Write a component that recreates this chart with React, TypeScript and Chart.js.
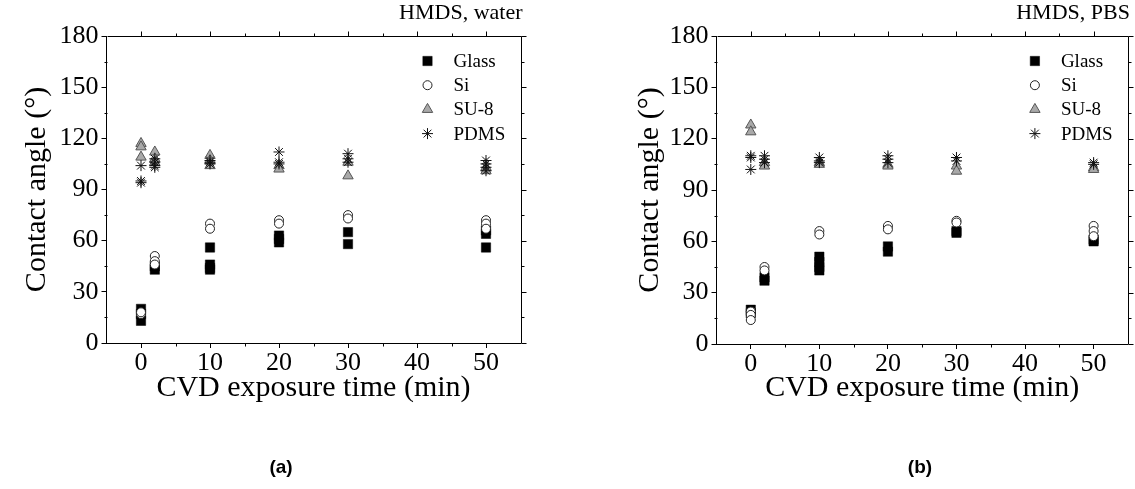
import React, { useEffect, useRef } from 'react';
import { Chart, registerables } from 'chart.js';
import { drawPoint } from 'chart.js/helpers';

Chart.register(...registerables);

// ---------- data ----------
const seriesNames = ['Glass', 'Si', 'SU-8', 'PDMS'];
const xTickValues = [0, 10, 20, 30, 40, 50];
const yTickValues = [0, 30, 60, 90, 120, 150, 180];
const xMinorValues = [5, 15, 25, 35, 45];
const yMinorValues = [15, 45, 75, 105, 135, 165];

// (a) HMDS, water
const waterGlass: [number, number][] = [
  [0, 13], [0, 17], [0, 20], [2, 43], [2, 45], [10, 56], [10, 46], [10, 44], [10, 43],
  [20, 63], [20, 61], [20, 59], [30, 65], [30, 58], [50, 66], [50, 64], [50, 56],
];
const waterSi: [number, number][] = [
  [0, 17], [0, 18], [2, 51], [2, 48], [2, 46], [10, 70], [10, 67], [20, 72], [20, 70],
  [30, 75], [30, 73], [50, 72], [50, 70], [50, 67],
];
const waterSU8: [number, number][] = [
  [0, 117], [0, 115], [0, 109], [2, 112], [2, 108], [2, 106], [10, 110], [10, 107], [10, 104],
  [20, 104], [20, 102], [30, 106], [30, 98], [50, 103], [50, 101],
];
const waterPDMS: [number, number][] = [
  [0, 104], [0, 95], [0, 94], [2, 108], [2, 106], [2, 104], [2, 103], [10, 107], [10, 106], [10, 105],
  [20, 112], [20, 106], [20, 105], [30, 111], [30, 108], [30, 106], [50, 107], [50, 105], [50, 103], [50, 101],
];

// (b) HMDS, PBS
const pbsGlass: [number, number][] = [
  [0, 20], [0, 18], [2, 39], [2, 37], [10, 51], [10, 48], [10, 45], [10, 43],
  [20, 57], [20, 54], [30, 66], [30, 65], [50, 61], [50, 60],
];
const pbsSi: [number, number][] = [
  [0, 19], [0, 17], [0, 14], [2, 45], [2, 43], [10, 66], [10, 64], [20, 69], [20, 67],
  [30, 72], [30, 71], [50, 69], [50, 66], [50, 63],
];
const pbsSU8: [number, number][] = [
  [0, 128], [0, 124], [2, 106], [2, 104], [10, 106], [10, 105], [20, 105], [20, 104],
  [30, 104], [30, 101], [50, 103], [50, 102],
];
const pbsPDMS: [number, number][] = [
  [0, 110], [0, 109], [0, 102], [2, 110], [2, 108], [2, 106], [10, 109], [10, 107], [10, 106],
  [20, 110], [20, 108], [20, 106], [30, 109], [30, 107], [50, 106], [50, 105],
];

// ---------- styles ----------
const markerStyles = [
  { pointStyle: 'rect', radius: 6.6, bg: '#000000', border: '#000000', bw: 0.5 },
  { pointStyle: 'circle', radius: 4.5, bg: '#ffffff', border: '#222222', bw: 1 },
  { pointStyle: 'triangle', radius: 6, bg: '#a9a9a9', border: '#555555', bw: 1 },
  { pointStyle: 'star', radius: 5.5, bg: '#000000', border: '#111111', bw: 1 },
];

const SERIF = '"Liberation Serif", "Times New Roman", serif';
const SANS = '"Liberation Sans", Arial, sans-serif';
const H = 489;

type Panel = {
  series: [number, number][][];
  note: string;
  label: string;
  labelX: number;
  canvasLeft: number;
  canvasWidth: number;
  yWidth: number;
  padRight: number;
  xHeight: number;
  yTitlePad: number;
};

const decorPlugin = {
  id: 'decor',
  afterDraw(chart: any) {
    const p: Panel = chart.options.plugins.decor.panel;
    const { ctx, chartArea } = chart;
    const { left, right, top, bottom } = chartArea;
    const xs = chart.scales.x;
    const ys = chart.scales.y;
    ctx.save();
    ctx.strokeStyle = '#000';
    ctx.lineWidth = 1;
    const L = Math.round(left) + 0.5;
    const R = Math.round(right) + 0.5;
    const T = Math.round(top) + 0.5;
    const B = Math.round(bottom) + 0.5;
    ctx.beginPath();
    ctx.moveTo(L, T);
    ctx.lineTo(R, T);
    ctx.lineTo(R, B);
    ctx.stroke();
    // ticks
    ctx.beginPath();
    xTickValues.forEach((v) => {
      const px = Math.round(xs.getPixelForValue(v)) + 0.5;
      ctx.moveTo(px, T);
      ctx.lineTo(px, T - 5);
    });
    xMinorValues.forEach((v) => {
      const px = Math.round(xs.getPixelForValue(v)) + 0.5;
      ctx.moveTo(px, T);
      ctx.lineTo(px, T - 3);
      ctx.moveTo(px, B);
      ctx.lineTo(px, B + 3);
    });
    yTickValues.forEach((v) => {
      const py = Math.round(ys.getPixelForValue(v)) + 0.5;
      ctx.moveTo(R, py);
      ctx.lineTo(R + 5, py);
    });
    yMinorValues.forEach((v) => {
      const py = Math.round(ys.getPixelForValue(v)) + 0.5;
      ctx.moveTo(R, py);
      ctx.lineTo(R + 3, py);
      ctx.moveTo(L, py);
      ctx.lineTo(L - 3, py);
    });
    ctx.stroke();

    // legend
    seriesNames.forEach((name, i) => {
      const st = markerStyles[i];
      const y = top + 25 + i * 24.2;
      ctx.fillStyle = st.bg;
      ctx.strokeStyle = st.border;
      ctx.lineWidth = st.bw;
      drawPoint(ctx, { pointStyle: st.pointStyle as any, radius: st.radius, rotation: 0, borderWidth: st.bw }, right - 93, y);
      ctx.fillStyle = '#000';
      ctx.font = `19px ${SERIF}`;
      ctx.textAlign = 'left';
      ctx.textBaseline = 'middle';
      ctx.fillText(name, right - 67, y + 1);
    });

    // note at top right
    ctx.fillStyle = '#000';
    ctx.font = `22px ${SERIF}`;
    ctx.textAlign = 'right';
    ctx.textBaseline = 'middle';
    ctx.fillText(p.note, right + 2, 13);

    // panel label
    ctx.font = `bold 19px ${SANS}`;
    ctx.textAlign = 'center';
    ctx.fillText(p.label, p.labelX, 468);
    ctx.restore();
  },
};

function buildConfig(p: Panel): any {
  return {
    type: 'scatter',
    data: {
      datasets: p.series.map((pts, i) => ({
        label: seriesNames[i],
        data: pts.map(([x, y]) => ({ x, y })),
        pointStyle: markerStyles[i].pointStyle,
        pointRadius: markerStyles[i].radius,
        pointHoverRadius: markerStyles[i].radius,
        backgroundColor: markerStyles[i].bg,
        borderColor: markerStyles[i].border,
        borderWidth: markerStyles[i].bw,
        order: 4 - i,
      })),
    },
    options: {
      responsive: false,
      animation: false,
      devicePixelRatio: 1,
      events: [],
      layout: { padding: { left: 0, right: p.padRight, top: 36, bottom: 0 } },
      plugins: {
        legend: { display: false },
        tooltip: { enabled: false },
        decor: { panel: p },
      },
      scales: {
        x: {
          type: 'linear',
          min: -5,
          max: 55,
          afterBuildTicks: (s: any) => {
            s.ticks = xTickValues.map((v) => ({ value: v }));
          },
          afterFit: (s: any) => {
            s.height = p.xHeight;
          },
          ticks: {
            color: '#000',
            font: { family: SERIF, size: 26 },
            padding: 0,
            maxRotation: 0,
            autoSkip: false,
          },
          grid: { drawOnChartArea: false, drawTicks: true, tickLength: 5, color: '#000' },
          border: { display: true, color: '#000', width: 1 },
          title: {
            display: true,
            text: 'CVD exposure time (min)',
            color: '#000',
            font: { family: SERIF, size: 30 },
            padding: { top: 0, bottom: 83 },
          },
        },
        y: {
          type: 'linear',
          min: 0,
          max: 180,
          afterBuildTicks: (s: any) => {
            s.ticks = yTickValues.map((v) => ({ value: v }));
          },
          afterFit: (s: any) => {
            s.width = p.yWidth;
          },
          ticks: {
            color: '#000',
            font: { family: SERIF, size: 26 },
            padding: 3,
            autoSkip: false,
          },
          grid: { drawOnChartArea: false, drawTicks: true, tickLength: 5, color: '#000' },
          border: { display: true, color: '#000', width: 1 },
          title: {
            display: true,
            text: 'Contact angle (°)',
            color: '#000',
            font: { family: SERIF, size: 30 },
            padding: { top: p.yTitlePad, bottom: 0 },
          },
        },
      },
    },
    plugins: [decorPlugin],
  };
}

const panels: Panel[] = [
  {
    series: [waterGlass, waterSi, waterSU8, waterPDMS],
    note: 'HMDS, water',
    label: '(a)',
    labelX: 281,
    canvasLeft: 0,
    canvasWidth: 567,
    yWidth: 106.5,
    padRight: 567 - 520.5,
    xHeight: H - 343,
    yTitlePad: 19,
  },
  {
    series: [pbsGlass, pbsSi, pbsSU8, pbsPDMS],
    note: 'HMDS, PBS',
    label: '(b)',
    labelX: 920 - 567,
    canvasLeft: 567,
    canvasWidth: 568,
    yWidth: 149.5,
    padRight: 568 - 563.7,
    xHeight: H - 344,
    yTitlePad: 65,
  },
];

function PanelChart({ panel }: { panel: Panel }) {
  const ref = useRef<HTMLCanvasElement | null>(null);
  useEffect(() => {
    if (!ref.current) return;
    const chart = new Chart(ref.current, buildConfig(panel));
    return () => chart.destroy();
  }, [panel]);
  return (
    <canvas
      ref={ref}
      width={panel.canvasWidth}
      height={H}
      style={{ position: 'absolute', left: panel.canvasLeft, top: 0, width: panel.canvasWidth, height: H }}
    />
  );
}

export default function App() {
  return (
    <div style={{ position: 'fixed', left: 0, top: 0, width: 1135, height: H, background: '#fff', overflow: 'hidden' }}>
      {panels.map((p) => (
        <PanelChart key={p.label} panel={p} />
      ))}
    </div>
  );
}
